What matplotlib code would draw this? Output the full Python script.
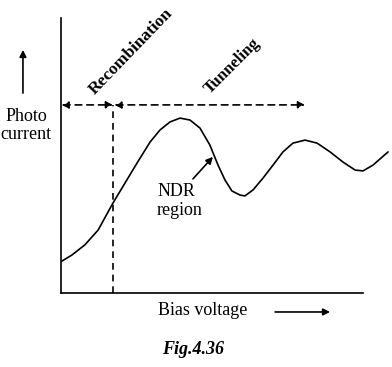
"""
Photocurrent vs bias voltage sketch (Fig. 4.36)
"""

import matplotlib
matplotlib.use('Agg')
import matplotlib.pyplot as plt

# ─────────────────────────────────────────────
# DATA (arbitrary units)
# ─────────────────────────────────────────────

bias = [0.03, 0.36, 0.79, 1.23, 1.72, 2.12, 2.52, 2.95, 3.28, 3.61, 3.94,
        4.27, 4.60, 4.93, 5.20, 5.43, 5.66, 5.93, 6.09, 6.36, 6.69, 7.02,
        7.35, 7.68, 8.08, 8.48, 8.91, 9.34, 9.74, 10.00, 10.33, 10.83]
photo = [1.16, 1.38, 1.75, 2.29, 3.27, 4.00, 4.73, 5.49, 5.93, 6.22, 6.36,
         6.29, 6.00, 5.38, 4.65, 4.11, 3.71, 3.56, 3.53, 3.75, 4.18, 4.65,
         5.13, 5.45, 5.56, 5.45, 5.13, 4.76, 4.47, 4.44, 4.65, 5.13]

V_BOUNDARY = 1.72   # recombination / tunneling boundary
V_TUNNEL_END = 8.08
I_ARROWS = 6.84

FONT = 'Liberation Serif'
FS = 13

# ─────────────────────────────────────────────
# FIGURE
# ─────────────────────────────────────────────

fig = plt.figure(figsize=(3.92, 3.67), dpi=100)
ax = fig.add_axes([61 / 392, 74 / 367, 302 / 392, 275 / 367])
ax.set_xlim(0, 10)
ax.set_ylim(0, 10)
for s in ['top', 'right']:
    ax.spines[s].set_visible(False)
for s in ['left', 'bottom']:
    ax.spines[s].set_linewidth(1.2)
ax.set_xticks([])
ax.set_yticks([])

# curve
ax.plot(bias, photo, color='black', lw=1.2, clip_on=False,
        solid_joinstyle='round', solid_capstyle='round')

# boundary line
ax.plot([V_BOUNDARY, V_BOUNDARY], [0, I_ARROWS], color='black', lw=1.2,
        dashes=(4, 3))

# region arrows
dash_arrow = dict(arrowstyle='<|-|>', color='black', lw=1.2,
                  linestyle=(0, (4, 3)), mutation_scale=10,
                  shrinkA=0, shrinkB=0)
ax.annotate('', xy=(V_BOUNDARY, I_ARROWS), xytext=(0.02, I_ARROWS),
            arrowprops=dash_arrow)
ax.annotate('', xy=(V_TUNNEL_END, I_ARROWS), xytext=(V_BOUNDARY + 0.05, I_ARROWS),
            arrowprops=dash_arrow)

ax.text(1.2, 7.1, 'Recombination', rotation=46, rotation_mode='anchor',
        ha='left', va='bottom', family=FONT, fontsize=12.5, fontweight='bold')
ax.text(5.03, 7.13, 'Tunneling', rotation=45, rotation_mode='anchor',
        ha='left', va='bottom', family=FONT, fontsize=12, fontweight='bold')

# NDR annotation
ax.annotate('', xy=(5.03, 4.95), xytext=(4.37, 4.15),
            arrowprops=dict(arrowstyle='-|>', color='black', lw=1.2,
                            mutation_scale=10, shrinkA=0, shrinkB=0))
ax.text(3.18, 4.0, 'NDR\nregion', ha='left', va='top', family=FONT,
        fontsize=FS, linespacing=1.15)

# y label with arrow
ax.annotate('', xy=(-1.26, 8.84), xytext=(-1.26, 7.27),
            arrowprops=dict(arrowstyle='-|>', color='black', lw=1.2,
                            mutation_scale=10, shrinkA=0, shrinkB=0),
            annotation_clip=False)
ax.text(-1.15, 6.1, 'Photo\ncurrent', ha='center', va='center', family=FONT,
        fontsize=FS, linespacing=1.05, clip_on=False)

# x label with arrow
ax.text(4.70, -0.62, 'Bias voltage', ha='center', va='center', family=FONT,
        fontsize=FS, clip_on=False)
ax.annotate('', xy=(8.91, -0.69), xytext=(7.09, -0.69),
            arrowprops=dict(arrowstyle='-|>', color='black', lw=1.2,
                            mutation_scale=10, shrinkA=0, shrinkB=0),
            annotation_clip=False)

# caption
ax.text(4.37, -2.07, 'Fig.4.36', ha='center', va='center', family=FONT,
        fontsize=FS, fontweight='bold', style='italic', clip_on=False)

fig.savefig('out.png', dpi=100, facecolor='white')
